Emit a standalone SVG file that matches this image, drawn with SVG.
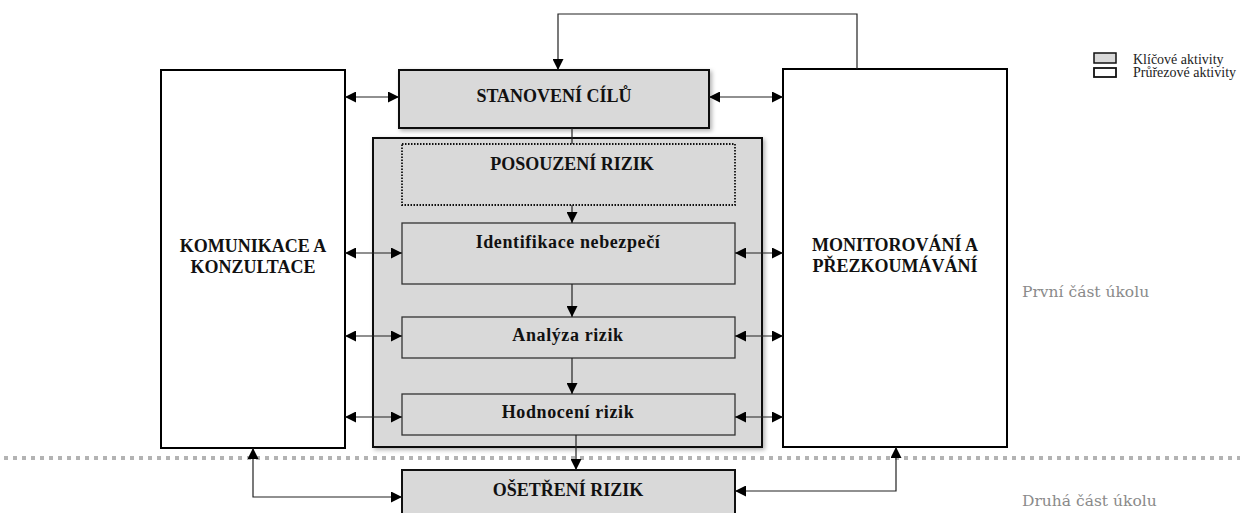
<svg xmlns="http://www.w3.org/2000/svg" width="1247" height="513" viewBox="0 0 1247 513">
<style>
.t{font-family:'Liberation Serif','Times New Roman','DejaVu Serif',serif;font-weight:bold;fill:#111;text-anchor:middle;dominant-baseline:central}
.big{font-size:18px}
.mid{font-size:18px;letter-spacing:0.6px}
.g{font-family:'DejaVu Serif','Liberation Serif',serif;fill:#8a8a8a;font-size:15.5px}
.leg{font-family:'Liberation Serif','Times New Roman','DejaVu Serif',serif;font-size:14px;fill:#222}
.main{fill:#fff;stroke:#000;stroke-width:2}
.key{fill:#d9d9d9;stroke:#111;stroke-width:2}
.inner{fill:#d9d9d9;stroke:#333;stroke-width:1.3}
.c{fill:none;stroke:#222;stroke-width:1.2}
</style>
<defs>
<marker id="ah" viewBox="0 0 10 10" refX="10" refY="5" markerWidth="11" markerHeight="11" markerUnits="userSpaceOnUse" orient="auto-start-reverse">
<path d="M0,0 L10,5 L0,10 z" fill="#000"/>
</marker>
<filter id="sh" x="-5%" y="-5%" width="115%" height="115%">
<feDropShadow dx="2" dy="2" stdDeviation="2" flood-color="#000" flood-opacity="0.3"/>
</filter>
</defs>
<rect width="1247" height="513" fill="#fff"/>
<line x1="4" y1="458" x2="1240" y2="458" stroke="#b3b3b3" stroke-width="4" stroke-dasharray="4 5"/>
<g id="container"><rect class="key" x="373" y="138" width="389" height="309" filter="url(#sh)"/></g>
<g id="komunikace"><rect class="main" x="161" y="70" width="184" height="378"/>
<text class="t big" x="253" y="246">KOMUNIKACE A</text><text class="t big" x="253" y="267">KONZULTACE</text></g>
<g id="monitorovani"><rect class="main" x="783" y="69" width="224" height="378"/>
<text class="t big" x="895" y="245">MONITOROVÁNÍ A</text><text class="t big" x="895" y="266">PŘEZKOUMÁVÁNÍ</text></g>
<g id="stanoveni"><rect class="key" x="399" y="70" width="310" height="58" filter="url(#sh)"/>
<text class="t big" x="554" y="96">STANOVENÍ CÍLŮ</text></g>
<g id="posouzeni"><rect x="402" y="144" width="333" height="61" fill="none" stroke="#111" stroke-width="1.8" stroke-dasharray="1.5 1.5"/>
<text class="t big" x="572" y="164">POSOUZENÍ RIZIK</text></g>
<g id="identifikace"><rect class="inner" x="402" y="223" width="333" height="61"/>
<text class="t mid" x="568" y="242">Identifikace nebezpečí</text></g>
<g id="analyza"><rect class="inner" x="402" y="317" width="333" height="41"/>
<text class="t mid" x="568" y="335">Analýza rizik</text></g>
<g id="hodnoceni"><rect class="inner" x="402" y="394" width="333" height="41"/>
<text class="t mid" x="568" y="412">Hodnocení rizik</text></g>
<g id="osetreni"><rect class="key" x="402" y="470" width="333" height="50"/>
<text class="t big" x="568" y="490">OŠETŘENÍ RIZIK</text></g>
<g id="connectors">
<path class="c" d="M857,69 V14 H558 V70" marker-end="url(#ah)"/>
<line class="c" x1="345" y1="97" x2="399" y2="97" marker-start="url(#ah)" marker-end="url(#ah)"/>
<line class="c" x1="345" y1="253" x2="402" y2="253" marker-start="url(#ah)" marker-end="url(#ah)"/>
<line class="c" x1="345" y1="336" x2="402" y2="336" marker-start="url(#ah)" marker-end="url(#ah)"/>
<line class="c" x1="345" y1="417" x2="402" y2="417" marker-start="url(#ah)" marker-end="url(#ah)"/>
<line class="c" x1="709" y1="97" x2="783" y2="97" marker-start="url(#ah)" marker-end="url(#ah)"/>
<line class="c" x1="735" y1="253" x2="783" y2="253" marker-start="url(#ah)" marker-end="url(#ah)"/>
<line class="c" x1="735" y1="336" x2="783" y2="336" marker-start="url(#ah)" marker-end="url(#ah)"/>
<line class="c" x1="735" y1="417" x2="783" y2="417" marker-start="url(#ah)" marker-end="url(#ah)"/>
<line class="c" x1="572" y1="128" x2="572" y2="144"/>
<line class="c" x1="572" y1="205" x2="572" y2="223" marker-end="url(#ah)"/>
<line class="c" x1="572" y1="284" x2="572" y2="317" marker-end="url(#ah)"/>
<line class="c" x1="572" y1="358" x2="572" y2="394" marker-end="url(#ah)"/>
<line class="c" x1="576" y1="435" x2="576" y2="470" marker-end="url(#ah)"/>
<path class="c" d="M253,448 V497 H402" marker-start="url(#ah)" marker-end="url(#ah)"/>
<path class="c" d="M896,447 V491 H735" marker-start="url(#ah)" marker-end="url(#ah)"/>
</g>
<g id="legend">
<rect x="1094" y="53" width="22" height="10" fill="#d9d9d9" stroke="#111" stroke-width="1.5"/>
<rect x="1094" y="68" width="22" height="9" fill="#fff" stroke="#111" stroke-width="1.8"/>
<text class="leg" x="1133" y="64">Klíčové aktivity</text>
<text class="leg" x="1133" y="77">Průřezové aktivity</text>
</g>
<text class="g" x="1022" y="297">První část úkolu</text>
<text class="g" x="1022" y="506">Druhá část úkolu</text>
</svg>
